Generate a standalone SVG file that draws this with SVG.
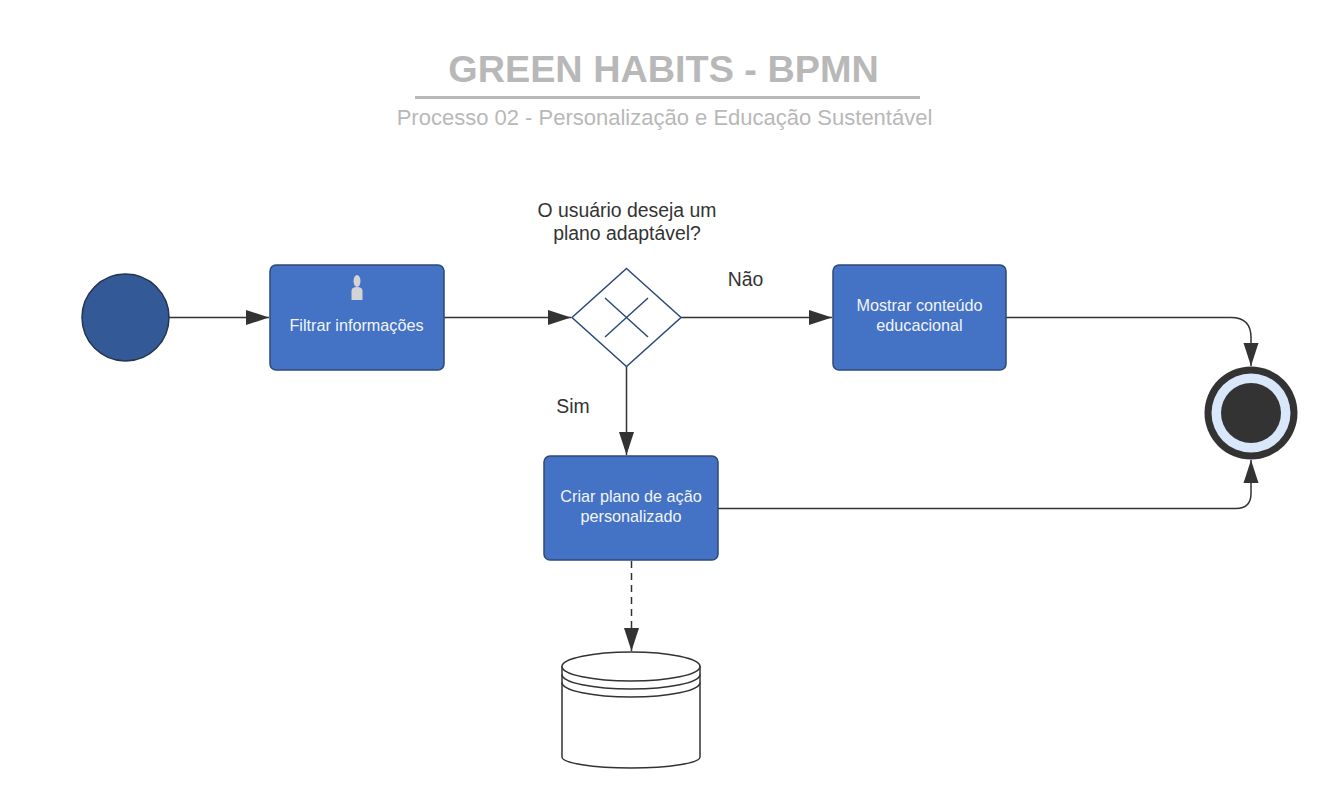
<svg xmlns="http://www.w3.org/2000/svg" width="1336" height="798" viewBox="0 0 1336 798">
<style>
text{font-family:"Liberation Sans",Arial,sans-serif}
.task{fill:#4472c4;stroke:#2c4a78;stroke-width:1.5}
.tl{fill:#f2f5fb;font-size:16.2px;text-anchor:middle}
.lb{fill:#333;font-size:19.4px;text-anchor:middle}
.c{fill:none;stroke:#333;stroke-width:1.5}
.d{fill:none;stroke:#333;stroke-width:1.4}
</style>
<defs><marker id="a" markerUnits="userSpaceOnUse" markerWidth="24" markerHeight="18" refX="23" refY="8" orient="auto"><path d="M0 .5L23 8L0 15.500Z" fill="#333"/></marker></defs>
<rect width="1336" height="798" fill="#fff"/>
<g id="title">
<text x="663.500" y="82" font-size="37.800" font-weight="700" fill="#b8b8b8" text-anchor="middle">GREEN HABITS - BPMN</text>
<rect x="415" y="96" width="505" height="3" fill="#b8b8b8"/>
<text x="664.500" y="125" font-size="22" fill="#b8b8b8" text-anchor="middle">Processo 02 - Personalização e Educação Sustentável</text>
</g>
<g id="connectors">
<path class="c" marker-end="url(#a)" d="M169 317.500H269"/>
<path class="c" marker-end="url(#a)" d="M444 317.500H571"/>
<path class="c" marker-end="url(#a)" d="M681 317.500H832"/>
<path class="c" marker-end="url(#a)" d="M1006 317.500H1231Q1251 317.500 1251 337.500V366"/>
<path class="c" marker-end="url(#a)" d="M626.500 366V455"/>
<path class="c" marker-end="url(#a)" d="M718 508.500H1236Q1251 508.500 1251 493.500V460"/>
<path class="c" stroke-dasharray="7 5" marker-end="url(#a)" d="M631.500 561V651"/>
</g>
<g id="start"><circle cx="125.500" cy="317.500" r="43.500" fill="#335a96" stroke="#25344f" stroke-width="1.5"/></g>
<g id="task1"><rect class="task" x="270" y="265" width="174" height="105" rx="6"/>
<ellipse cx="357" cy="281" rx="3.500" ry="6" fill="#d4d4d4"/><path d="M351.500 300V291Q351.500 287 357 287Q362.500 287 362.500 291V300Z" fill="#d4d4d4"/>
<text class="tl" x="356.500" y="331">Filtrar informações</text></g>
<g id="gateway"><path d="M626.500 268.500L681 317.500L626.500 366.500L572 317.500Z" fill="#fff" stroke="#2c4a78" stroke-width="1.5"/>
<path d="M605 298L648 337M648 298L605 337" stroke="#2c4a78" stroke-width="1.5"/>
<text class="lb" x="627" y="217">O usuário deseja um</text><text class="lb" x="627" y="240">plano adaptável?</text></g>
<text class="lb" x="745.500" y="286">Não</text>
<text class="lb" x="573" y="413">Sim</text>
<g id="task2"><rect class="task" x="833" y="265" width="173" height="105" rx="6"/>
<text class="tl" x="919.500" y="311">Mostrar conteúdo</text><text class="tl" x="919.500" y="331">educacional</text></g>
<g id="task3"><rect class="task" x="544" y="456" width="174" height="104" rx="6"/>
<text class="tl" x="631" y="502">Criar plano de ação</text><text class="tl" x="631" y="522">personalizado</text></g>
<g id="end"><circle cx="1251" cy="413" r="46.500" fill="#333"/><circle cx="1251" cy="413" r="39.500" fill="#d9e7fb"/><circle cx="1251" cy="413" r="30" fill="#333"/></g>
<g id="db"><path d="M562 666.500V757A69 11 0 0 0 700 757V666.500Z" fill="#fff" stroke="#333" stroke-width="1.5"/>
<ellipse cx="631" cy="666.500" rx="69" ry="14.500" fill="#fff" stroke="#333" stroke-width="1.5"/>
<path d="M562 674.500A69 14.500 0 0 0 700 674.500M562 682.500A69 14.500 0 0 0 700 682.500" fill="none" stroke="#333" stroke-width="1.5"/></g>
</svg>
